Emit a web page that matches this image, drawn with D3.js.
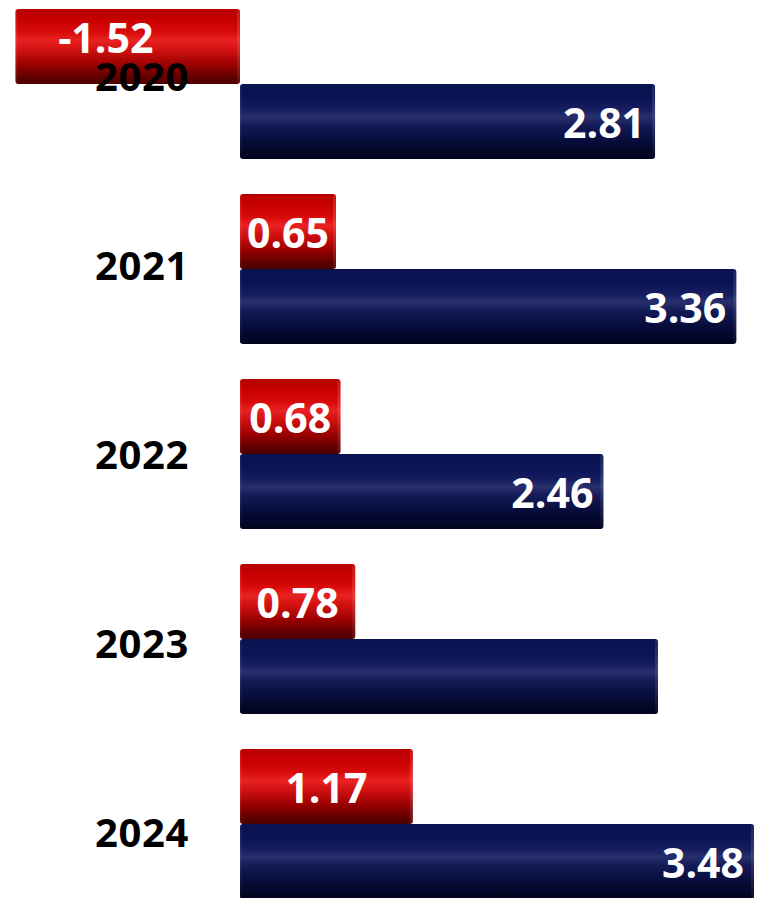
<!DOCTYPE html>
<html>
<head>
<meta charset="utf-8">
<script src="https://cdn.jsdelivr.net/npm/d3@7"></script>
<style>
  html, body { margin: 0; padding: 0; background: #ffffff; }
  svg { display: block; }
</style>
</head>
<body>
<svg id="chart" width="761" height="898"></svg>
<script>
// Yearly values: red series (top bar of each pair) and navy series (bottom bar)
const years = ["2020", "2021", "2022", "2023", "2024"];
const redValues = [-1.52, 0.65, 0.68, 0.78, 1.17];
const navyValues = [2.81, 3.36, 2.46, 2.83, 3.48];
// The 2023 navy bar carries no value label
const navyLabelShown = [true, true, true, false, true];

const svg = d3.select("#chart");

const x = d3.scaleLinear().domain([0, 3.48]).range([240, 754]);

const y = d3.scaleBand()
  .domain(years)
  .range([9, 899])
  .paddingInner(35 / 185)
  .paddingOuter(0);

const barH = y.bandwidth() / 2;

// Year labels sit on their own category scale
const yLabel = d3.scalePoint().domain(years).range([75, 831]);

// Cylinder-style shading gradients
const defs = svg.append("defs");
function cylinder(id, stops) {
  const g = defs.append("linearGradient")
    .attr("id", id).attr("x1", 0).attr("y1", 0).attr("x2", 0).attr("y2", 1);
  stops.forEach(([o, c]) => g.append("stop").attr("offset", o).attr("stop-color", c));
}
cylinder("redGrad", [
  [0, "#b80000"], [0.15, "#c80000"], [0.3, "#d80a0a"], [0.42, "#e82222"],
  [0.55, "#d01010"], [0.75, "#980000"], [0.9, "#640000"], [1, "#4a0000"]
]);
cylinder("navyGrad", [
  [0, "#0a1250"], [0.2, "#0b1456"], [0.34, "#161e60"], [0.44, "#272f6c"],
  [0.56, "#141a56"], [0.75, "#070d3c"], [0.9, "#030728"], [1, "#02041c"]
]);
cylinder("capRed", [[0, "#d03030"], [0.4, "#f05050"], [1, "#702020"]]);
cylinder("capNavy", [[0, "#30386a"], [0.4, "#505890"], [1, "#101430"]]);

function drawBars(values, fill, cap, offset, cls) {
  const g = svg.append("g").attr("class", cls);
  const rows = g.selectAll("g").data(values).join("g");
  rows.append("rect")
    .attr("x", d => Math.min(x(0), x(d)))
    .attr("y", (d, i) => y(years[i]) + offset)
    .attr("width", d => Math.abs(x(d) - x(0)))
    .attr("height", barH)
    .attr("rx", 3)
    .attr("fill", `url(#${fill})`);
  // thin rounded end caps
  rows.append("rect")
    .attr("x", d => Math.max(x(0), x(d)) - 3)
    .attr("y", (d, i) => y(years[i]) + offset + 1)
    .attr("width", 3)
    .attr("height", barH - 2)
    .attr("rx", 1.5)
    .attr("fill", `url(#${cap})`)
    .attr("opacity", 0.5);
  rows.append("rect")
    .attr("x", d => Math.min(x(0), x(d)))
    .attr("y", (d, i) => y(years[i]) + offset + 1)
    .attr("width", 2)
    .attr("height", barH - 2)
    .attr("fill", `url(#${cap})`)
    .attr("opacity", 0.3);
}

drawBars(redValues, "redGrad", "capRed", 0, "red-bars");
drawBars(navyValues, "navyGrad", "capNavy", barH, "navy-bars");

const font = "'Open Sans', 'DejaVu Sans', sans-serif";
const fmt = d => d.toFixed(2);

// Red value labels, centred in the bar
svg.append("g").selectAll("text")
  .data(redValues).join("text")
  .attr("x", d => d < 0 ? (x(0) + x(d)) / 2 - 22 : Math.max((x(0) + x(d)) / 2, x(0) + 44))
  .attr("y", (d, i) => y(years[i]) + barH / 2 - (d < 0 ? 10 : 0))
  .attr("text-anchor", "middle")
  .attr("dominant-baseline", "central")
  .attr("font-family", font)
  .attr("font-weight", 700)
  .attr("font-size", 41)
  .attr("fill", "#ffffff")
  .text(d => fmt(d));

// Navy value labels, near the bar end
svg.append("g").selectAll("text")
  .data(navyValues.map((v, i) => ({ v, i })).filter(d => navyLabelShown[d.i]))
  .join("text")
  .attr("x", d => x(d.v) - 10)
  .attr("y", d => y(years[d.i]) + barH * 1.5)
  .attr("text-anchor", "end")
  .attr("dominant-baseline", "central")
  .attr("font-family", font)
  .attr("font-weight", 700)
  .attr("font-size", 41)
  .attr("fill", "#ffffff")
  .text(d => fmt(d.v));

// Year category labels
svg.append("g").selectAll("text")
  .data(years).join("text")
  .attr("x", 189)
  .attr("y", d => yLabel(d))
  .attr("text-anchor", "end")
  .attr("dominant-baseline", "central")
  .attr("font-family", font)
  .attr("font-weight", 700)
  .attr("font-size", 40)
  .attr("letter-spacing", 0.6)
  .attr("fill", "#000000")
  .text(d => d);
</script>
</body>
</html>
